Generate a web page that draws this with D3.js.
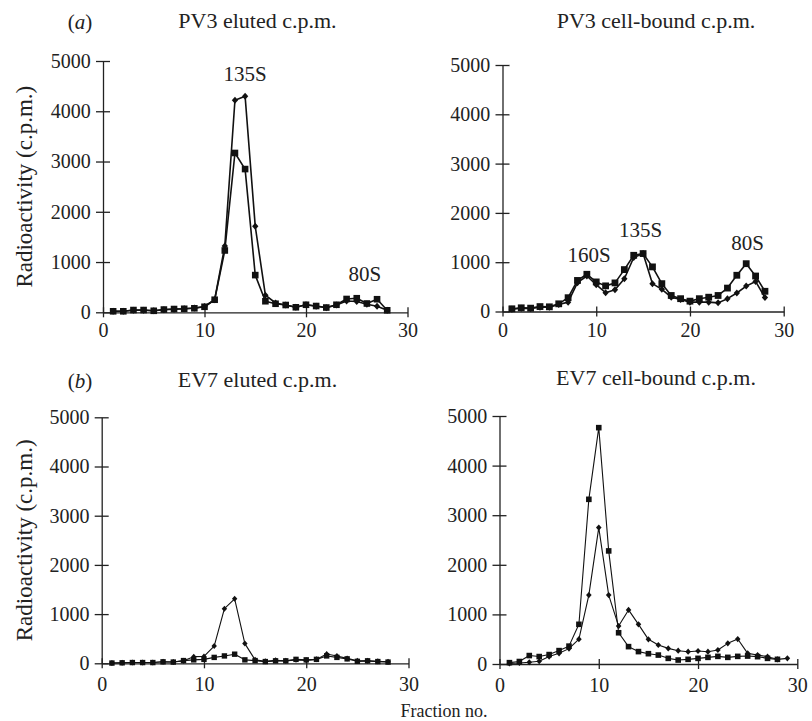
<!DOCTYPE html>
<html>
<head>
<meta charset="utf-8">
<script src="https://cdn.jsdelivr.net/npm/d3@7"></script>
<style>
  html, body { margin: 0; padding: 0; background: #fff; }
  svg { display: block; }
  text { font-family: "Liberation Serif", "Times New Roman", serif; fill: #222; }
</style>
</head>
<body>
<svg id="chart" width="812" height="721"></svg>
<script>
// Sucrose-gradient fractions (fraction number 1..n)
const pv3ElutedSquares   = [20, 20, 45, 45, 30, 55, 65, 70, 80, 110, 250, 1230, 3170, 2850, 740, 220, 170, 145, 100, 150, 125, 95, 150, 265, 280, 175, 260, 40];
const pv3ElutedDiamonds  = [20, 20, 40, 40, 30, 50, 60, 70, 85, 115, 250, 1320, 4220, 4300, 1710, 340, 185, 145, 100, 150, 120, 90, 145, 225, 215, 160, 120, 40];

const pv3BoundSquares    = [55, 75, 68, 100, 95, 156, 280, 630, 755, 600, 520, 580, 850, 1140, 1175, 905, 565, 325, 260, 210, 260, 290, 325, 475, 735, 970, 720, 410];
const pv3BoundDiamonds   = [45, 65, 60, 85, 85, 140, 190, 585, 720, 545, 380, 440, 665, 1095, 1175, 565, 450, 290, 245, 190, 190, 190, 175, 260, 375, 515, 610, 285];

const ev7ElutedSquares   = [5, 10, 15, 15, 15, 30, 25, 55, 70, 80, 120, 150, 185, 70, 55, 35, 50, 50, 80, 70, 80, 150, 120, 90, 40, 50, 35, 25];
const ev7ElutedDiamonds  = [5, 10, 15, 15, 15, 30, 25, 50, 135, 140, 350, 1110, 1310, 400, 70, 40, 60, 50, 70, 60, 80, 190, 150, 100, 50, 50, 40, 30];

const ev7BoundSquares    = [27, 50, 170, 150, 190, 270, 360, 800, 3320, 4765, 2280, 630, 350, 250, 208, 180, 114, 80, 94, 114, 134, 154, 134, 154, 160, 148, 114, 94];
const ev7BoundDiamonds   = [10, 20, 35, 55, 150, 215, 310, 500, 1390, 2750, 1390, 765, 1090, 800, 497, 383, 315, 268, 248, 262, 248, 282, 416, 503, 215, 180, 148, 94, 114];

const xTicks = [0, 10, 20, 30];
const yTicks = [0, 1000, 2000, 3000, 4000, 5000];

const panelTitles = ["PV3 eluted c.p.m.", "PV3 cell-bound c.p.m.", "EV7 eluted c.p.m.", "EV7 cell-bound c.p.m."];

// Sedimentation peak labels, placed in data coordinates of their panel
const pv3ElutedPeaks = [{ text: "135S", f: 14.0, v: 4610 }, { text: "80S", f: 25.8, v: 620 }];
const pv3BoundPeaks  = [{ text: "160S", f: 9.23, v: 1010 }, { text: "135S", f: 14.74, v: 1505 }, { text: "80S", f: 26.16, v: 1247 }];

// Plot frames: pixel extents of each axis pair
const layout = [
  { left: 103.0, right: 407.5, bottom: 312.3, top: 61.0,  titleX: 257.5, titleY: 28,  lineW: 1.6, sq: 6.6, dm: 7.0, tickLabelDy: 25 },
  { left: 502.5, right: 783.7, bottom: 311.5, top: 65.0,  titleX: 656,   titleY: 28,  lineW: 1.6, sq: 6.8, dm: 7.0, tickLabelDy: 25 },
  { left: 101.7, right: 408.5, bottom: 663.3, top: 417.3, titleX: 257.5, titleY: 386.5, lineW: 1.1, sq: 5.4, dm: 6.0, tickLabelDy: 28 },
  { left: 499.5, right: 797.3, bottom: 664.0, top: 416.0, titleX: 656,   titleY: 385, lineW: 1.1, sq: 5.6, dm: 6.2, tickLabelDy: 28 }
];

const panelSeries = [
  [pv3ElutedSquares, pv3ElutedDiamonds],
  [pv3BoundSquares, pv3BoundDiamonds],
  [ev7ElutedSquares, ev7ElutedDiamonds],
  [ev7BoundSquares, ev7BoundDiamonds]
];
const panelPeaks = [pv3ElutedPeaks, pv3BoundPeaks, [], []];

const svg = d3.select("#chart");
svg.append("rect").attr("width", 812).attr("height", 721).attr("fill", "#fff");

// Filled rhombus marker of equal width and height
const squareDiamond = {
  draw(ctx, size) {
    const r = Math.sqrt(size) / 2;
    ctx.moveTo(0, -r); ctx.lineTo(r * 0.9, 0); ctx.lineTo(0, r); ctx.lineTo(-r * 0.9, 0); ctx.closePath();
  }
};

layout.forEach((L, i) => {
  const x = d3.scaleLinear().domain([0, 30]).range([L.left, L.right]);
  const y = d3.scaleLinear().domain([0, 5000]).range([L.bottom, L.top]);
  const g = svg.append("g");

  // y axis with ticks crossing the axis line
  const ya = g.append("g").attr("transform", `translate(${L.left},0)`)
    .call(d3.axisLeft(y).tickValues(yTicks).tickFormat(d3.format("d"))
      .tickSizeInner(7).tickSizeOuter(0).tickPadding(5.3));
  ya.selectAll(".tick line").attr("x1", 7);
  // x axis
  const xa = g.append("g").attr("transform", `translate(0,${L.bottom})`)
    .call(d3.axisBottom(x).tickValues(xTicks).tickFormat(d3.format("d"))
      .tickSizeInner(5).tickSizeOuter(0).tickPadding(L.tickLabelDy - 5 - 14.2));
  xa.selectAll(".tick line").attr("y1", -5);

  [ya, xa].forEach(a => {
    a.select(".domain").attr("stroke", "#222").attr("stroke-width", 1.3);
    a.selectAll(".tick line").attr("stroke", "#222").attr("stroke-width", 1.3);
    a.selectAll(".tick text").attr("font-size", 20).attr("fill", "#222")
      .style("font-family", '"Liberation Serif", serif');
  });

  const [sqVals, dmVals] = panelSeries[i];
  const line = d3.line().x(d => x(d.f)).y(d => y(d.v));
  const toPts = vals => vals.map((v, k) => ({ f: k + 1, v }));

  const sqPts = toPts(sqVals), dmPts = toPts(dmVals);
  g.append("path").datum(sqPts).attr("d", line).attr("fill", "none")
    .attr("stroke", "#111").attr("stroke-width", L.lineW).attr("stroke-linejoin", "round");
  g.append("path").datum(dmPts).attr("d", line).attr("fill", "none")
    .attr("stroke", "#111").attr("stroke-width", L.lineW).attr("stroke-linejoin", "round");

  g.selectAll(".sq").data(sqPts).join("path")
    .attr("transform", d => `translate(${x(d.f)},${y(d.v)})`)
    .attr("d", d3.symbol(d3.symbolSquare, L.sq * L.sq)).attr("fill", "#111");
  g.selectAll(".dm").data(dmPts).join("path")
    .attr("transform", d => `translate(${x(d.f)},${y(d.v)})`)
    .attr("d", d3.symbol(squareDiamond, L.dm * L.dm)).attr("fill", "#111");

  // panel title
  g.append("text").attr("x", L.titleX).attr("y", L.titleY).attr("text-anchor", "middle")
    .attr("font-size", 22).text(panelTitles[i]);

  // peak labels
  g.selectAll(".peak").data(panelPeaks[i]).join("text")
    .attr("x", d => x(d.f)).attr("y", d => y(d.v)).attr("text-anchor", "middle")
    .attr("font-size", 21).text(d => d.text);

  // y-axis title on the left column
  if (i % 2 === 0) {
    g.append("text")
      .attr("transform", `translate(31.5,${(L.top + L.bottom) / 2}) rotate(-90)`)
      .attr("text-anchor", "middle").attr("font-size", 23)
      .text("Radioactivity (c.p.m.)");
    const lab = g.append("text").attr("x", 80).attr("y", L.titleY + 1).attr("text-anchor", "middle").attr("font-size", 21);
    lab.append("tspan").text("(");
    lab.append("tspan").attr("font-style", "italic").text(i === 0 ? "a" : "b");
    lab.append("tspan").text(")");
  }
});

svg.append("text").attr("x", 444).attr("y", 716.5).attr("text-anchor", "middle")
  .attr("font-size", 18).text("Fraction no.");
</script>
</body>
</html>
